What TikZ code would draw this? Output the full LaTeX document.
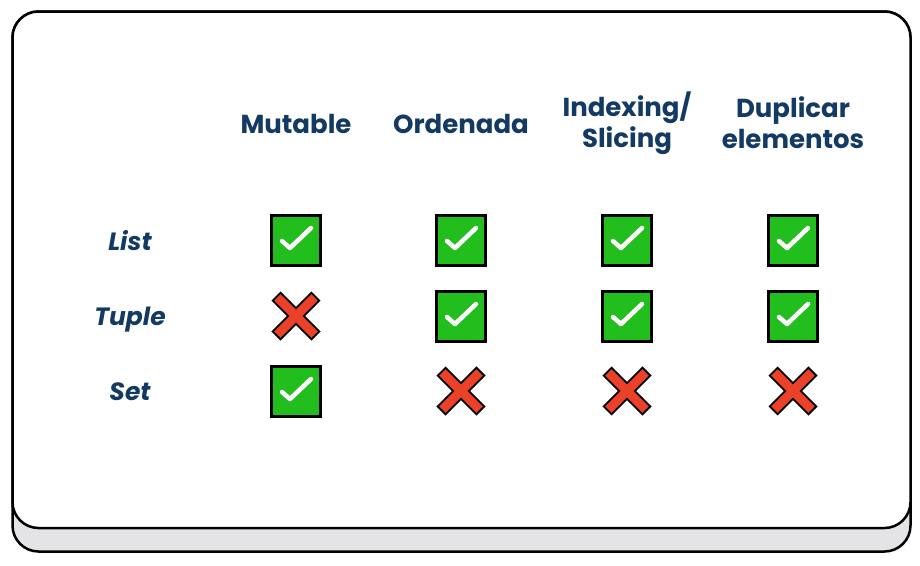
\documentclass[tikz,border=0pt]{standalone}
\usepackage{fontspec}
\setmainfont{Poppins}
\definecolor{navy}{RGB}{19,58,99}
\definecolor{okgreen}{RGB}{34,190,30}
\definecolor{nored}{RGB}{234,65,40}
\definecolor{plate}{RGB}{228,228,230}
\tikzset{
  head/.style={font=\bfseries\fontsize{26}{31}\selectfont, text=navy, align=center, inner sep=0pt},
  rowlab/.style={font=\bfseries\itshape\fontsize{25}{30}\selectfont, text=navy, inner sep=0pt, anchor=base},
  okbox/.style={draw=black, line width=3pt, fill=okgreen, minimum width=49pt, minimum height=50pt, inner sep=0pt},
}
\newcommand{\okmark}[2]{%
  \node[okbox] (#1) at (#2) {};
  \draw[white, line width=4.5pt, line cap=round, line join=round]
    ([shift={(-14pt,-1pt)}]#1.center) -- ([shift={(-6pt,-8pt)}]#1.center) -- ([shift={(15pt,12pt)}]#1.center);
}
\newcommand{\nomark}[2]{%
  \coordinate (#1) at (#2);
  \draw[black, line width=13pt] ([shift={(-20pt,-20pt)}]#1) -- ([shift={(20pt,20pt)}]#1);
  \draw[black, line width=13pt] ([shift={(-20pt,20pt)}]#1) -- ([shift={(20pt,-20pt)}]#1);
  \draw[nored, line width=9pt] ([shift={(-18.6pt,-18.6pt)}]#1) -- ([shift={(18.6pt,18.6pt)}]#1);
  \draw[nored, line width=9pt] ([shift={(-18.6pt,18.6pt)}]#1) -- ([shift={(18.6pt,-18.6pt)}]#1);
}
\begin{document}
\begin{tikzpicture}[x=1pt,y=-1pt]
\useasboundingbox[fill=white] (0,0) rectangle (920,565);
% card
\draw[line width=2.5pt, fill=plate, rounded corners=26pt] (12.5,11.5) rectangle (910.5,551.5);
\draw[line width=2.5pt, fill=white, rounded corners=26pt] (12.5,11.5) rectangle (910.5,528);
% headers
\node[head] (h1) at (296,124) {Mutable};
\node[head] (h2) at (461,124) {Ordenada};
\node[head] (h3) at (627,123) {Indexing/\\Slicing};
\node[head] (h4) at (793,123) {Duplicar\\elementos};
% row labels
\node[rowlab] (r1) at (130,250) {List};
\node[rowlab] (r2) at (130,325) {Tuple};
\node[rowlab] (r3) at (130,400) {Set};
% marks
\okmark{a1}{296,240}
\okmark{a2}{461,240}
\okmark{a3}{627,240}
\okmark{a4}{793,240}
\nomark{b1}{296,316}
\okmark{b2}{461,316}
\okmark{b3}{627,316}
\okmark{b4}{793,316}
\okmark{c1}{296,391}
\nomark{c2}{461,391}
\nomark{c3}{627,391}
\nomark{c4}{793,391}
\end{tikzpicture}
\end{document}
